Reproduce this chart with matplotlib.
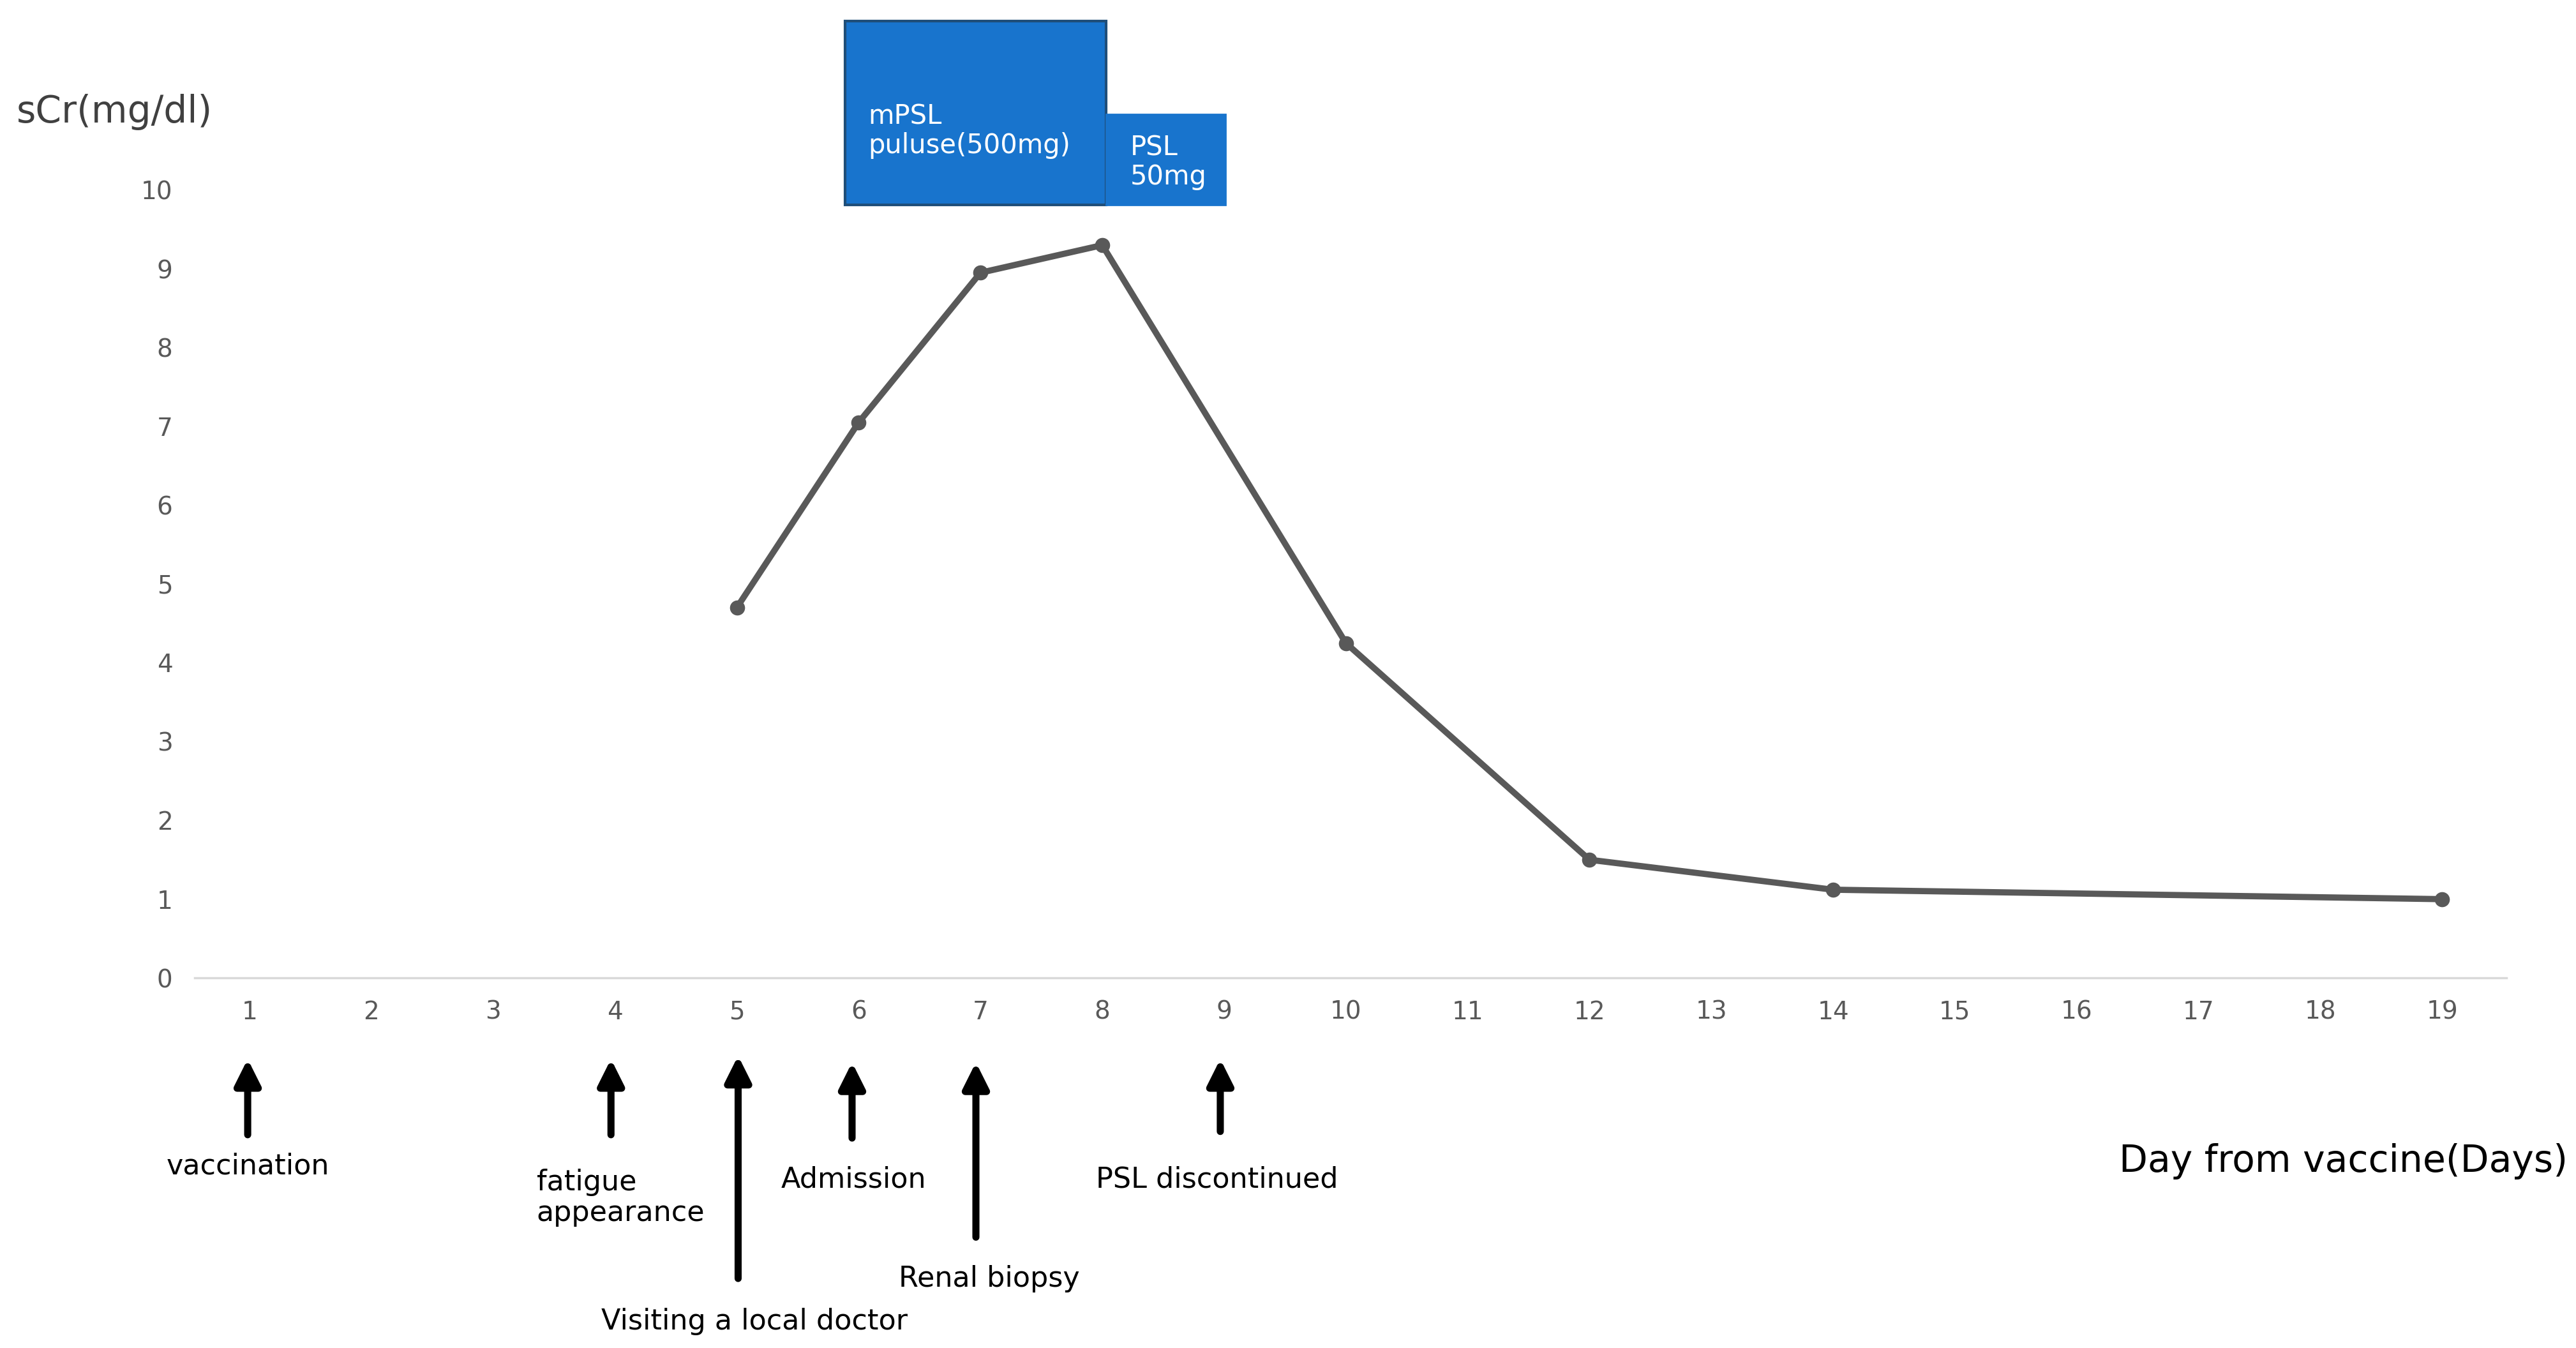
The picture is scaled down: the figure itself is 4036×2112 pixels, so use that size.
import matplotlib
matplotlib.use("Agg")
import matplotlib.pyplot as plt
from matplotlib.patches import Rectangle

days = list(range(1, 20))
x_days = [5, 6, 7, 8, 10, 12, 14, 19]
scr = [4.7, 7.05, 8.95, 9.3, 4.25, 1.5, 1.12, 1.0]
yticks = list(range(0, 11))
events = [(1, "vaccination"), (4, "fatigue\nappearance"), (5, "Visiting a local doctor"),
          (6, "Admission"), (7, "Renal biopsy"), (9, "PSL discontinued")]

W, H = 1560, 816
def fx(x): return x / W
def fy(y): return 1 - y / H

plt.rcParams['font.family'] = ['DejaVu Sans']
fig = plt.figure(figsize=(40.36, 21.12), dpi=100)
ax = fig.add_axes([fx(118), fy(592), fx(1518) - fx(118), fy(115) - fy(592)])
ax.plot(x_days, scr, color="#595959", lw=7, marker="o", ms=16, zorder=3)
ax.set_xlim(0.55, 19.53)
ax.set_ylim(0, 10)
ax.set_xticks(days)
ax.set_yticks(yticks)
ax.tick_params(length=0, labelsize=28, labelcolor="#595959", pad=25)
for s in ["top", "right", "left"]:
    ax.spines[s].set_visible(False)
ax.spines["bottom"].set_color("#d9d9d9")
ax.spines["bottom"].set_linewidth(2.5)

blue, edge = "#1874CD", "#1f4e79"
ax.add_patch(Rectangle((5.89, 9.81), 8.03 - 5.89, 12.14 - 9.81, fc=blue, ec=edge, lw=3, clip_on=False, zorder=4))
ax.add_patch(Rectangle((8.03, 9.81), 9.01 - 8.03, 10.96 - 9.81, fc=blue, ec=blue, lw=2, clip_on=False, zorder=4))
ax.text(6.08, 10.75, "mPSL\npuluse(500mg)", color="white", fontsize=30, va="center", zorder=5, linespacing=1.1)
ax.text(8.23, 10.35, "PSL\n50mg", color="white", fontsize=30, va="center", zorder=5, linespacing=1.1)

fig.text(fx(10), fy(68), "sCr(mg/dl)", fontsize=42, color="#404040", va="center")
fig.text(fx(1555), fy(703), "Day from vaccine(Days)", fontsize=42, color="black", va="center", ha="right")

arrows = [(150, 688, 640), (370, 688, 640), (447, 775, 638), (516, 690, 642), (591, 750, 642), (739, 686, 640)]
for x, y0, y1 in arrows:
    fig.add_artist(matplotlib.patches.FancyArrowPatch((fx(x), fy(y0)), (fx(x), fy(y1)),
                   transform=fig.transFigure, arrowstyle="-|>,head_length=1.2,head_width=0.6",
                   lw=8, color="black", mutation_scale=20))
labels_pos = [(150, 706, "center"), (325, 725, "left"), (457, 800, "center"),
              (517, 714, "center"), (599, 774, "center"), (737, 714, "center")]
for (d, t), (x, y, ha) in zip(events, labels_pos):
    fig.text(fx(x), fy(y), t, fontsize=32, ha=ha, va="center", linespacing=1.15)

fig.savefig("out.png", dpi=100, facecolor="white")
